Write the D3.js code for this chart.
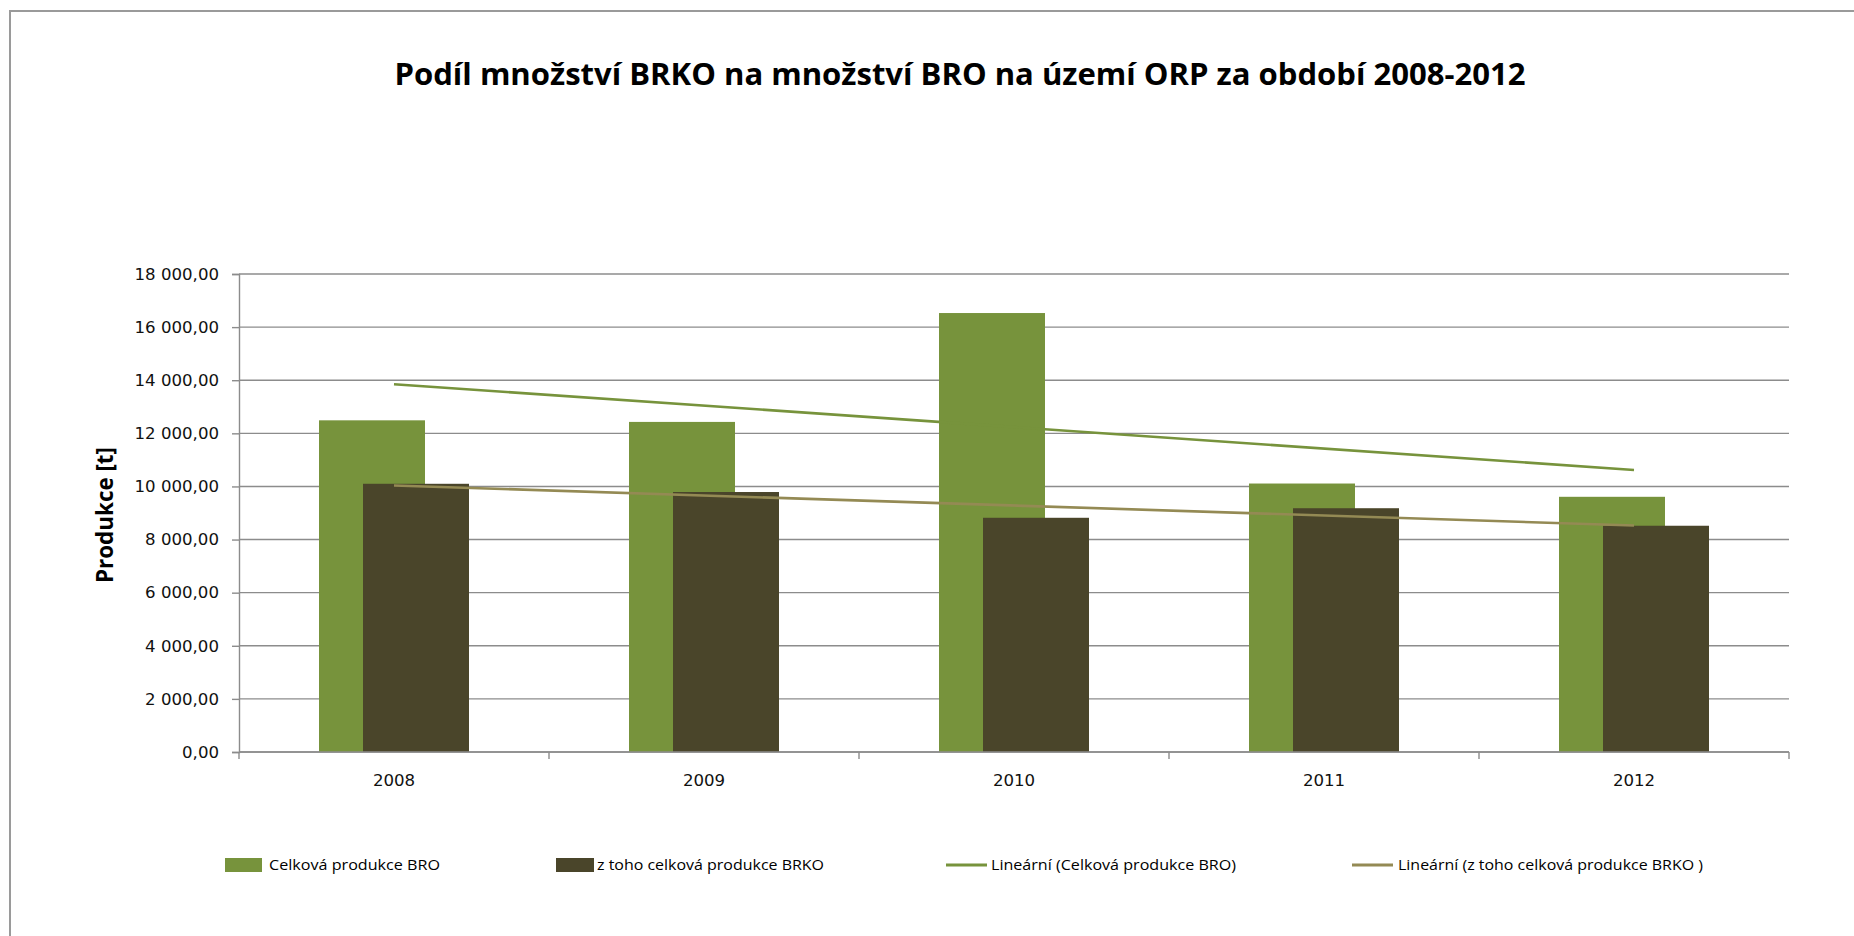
<!DOCTYPE html>
<html>
<head>
<meta charset="utf-8">
<script src="https://cdn.jsdelivr.net/npm/d3@7"></script>
<style>
  html, body { margin: 0; padding: 0; background: #ffffff; }
  svg { display: block; }
</style>
</head>
<body>
<svg id="chart" width="1854" height="936"></svg>
<script>
// Data: production of biodegradable waste (BRO) and its municipal part (BRKO), tonnes
const years = ["2008", "2009", "2010", "2011", "2012"];
const broValues = [12490, 12430, 16530, 10110, 9610];
const brkoValues = [10100, 9790, 8820, 9180, 8520];
const yTicks = [0, 2000, 4000, 6000, 8000, 10000, 12000, 14000, 16000, 18000];
const titleText = "Podíl množství BRKO na množství BRO na území ORP za období 2008-2012";
const yAxisTitle = "Produkce [t]";
const legendLabels = [
  "Celková produkce BRO",
  "z toho celková produkce BRKO",
  "Lineární (Celková produkce BRO)",
  "Lineární (z toho celková produkce BRKO )"
];

const colBRO = "#77933c";
const colBRKO = "#4a452a";
const colTrendBRO = "#77933c";
const colTrendBRKO = "#948a54";
const gridCol = "#8c8c8c";

const svg = d3.select("#chart");

// Outer chart frame
svg.append("rect")
  .attr("x", 10).attr("y", 11)
  .attr("width", 1900).attr("height", 960)
  .attr("fill", "none")
  .attr("stroke", "#9a9a9a")
  .attr("stroke-width", 2);

// Title
svg.append("text")
  .attr("x", 960).attr("y", 85)
  .attr("text-anchor", "middle")
  .attr("font-family", "'Open Sans', 'DejaVu Sans', sans-serif")
  .attr("font-weight", "bold")
  .attr("font-size", 31)
  .attr("textLength", 1131)
  .attr("lengthAdjust", "spacingAndGlyphs")
  .attr("fill", "#000")
  .text(titleText);

// Scales
const plotLeft = 239, plotRight = 1789, plotTop = 274, plotBottom = 752;
const x = d3.scaleBand().domain(years).range([plotLeft, plotRight]).padding(0);
const y = d3.scaleLinear().domain([0, 18000]).range([plotBottom, plotTop]);

const csLocale = d3.formatLocale({ decimal: ",", thousands: " ", grouping: [3], currency: ["", " Kč"] });
const fmt = csLocale.format(",.2f");

// Horizontal gridlines
svg.append("g")
  .selectAll("line")
  .data(yTicks)
  .join("line")
  .attr("x1", plotLeft).attr("x2", plotRight)
  .attr("y1", d => y(d)).attr("y2", d => y(d))
  .attr("stroke", gridCol)
  .attr("stroke-width", 1.4);

// Y axis
const yAxis = svg.append("g")
  .attr("transform", `translate(${plotLeft},0)`)
  .call(d3.axisLeft(y).tickValues(yTicks).tickFormat(fmt).tickSize(7).tickPadding(13));
yAxis.select(".domain").attr("stroke", gridCol).attr("stroke-width", 1.4);
yAxis.selectAll(".tick line").attr("stroke", gridCol).attr("stroke-width", 1.4);
yAxis.selectAll(".tick text")
  .attr("font-family", "'DejaVu Sans', Verdana, sans-serif")
  .attr("font-size", 16.6)
  .attr("fill", "#111");

// Y axis title
svg.append("text")
  .attr("transform", `translate(113,515) rotate(-90)`)
  .attr("text-anchor", "middle")
  .attr("font-family", "'Open Sans', 'DejaVu Sans', sans-serif")
  .attr("font-weight", "bold")
  .attr("font-size", 23)
  .attr("textLength", 136)
  .attr("lengthAdjust", "spacingAndGlyphs")
  .attr("fill", "#000")
  .text(yAxisTitle);

// Bars: BRO behind, BRKO in front, overlapping
const barW = 106, barShift = 22;
const center = d => x(d) + x.bandwidth() / 2;

svg.append("g")
  .selectAll("rect")
  .data(years.map((yr, i) => ({ yr, v: broValues[i] })))
  .join("rect")
  .attr("x", d => center(d.yr) - barShift - barW / 2)
  .attr("y", d => y(d.v))
  .attr("width", barW)
  .attr("height", d => y(0) - y(d.v))
  .attr("fill", colBRO);

svg.append("g")
  .selectAll("rect")
  .data(years.map((yr, i) => ({ yr, v: brkoValues[i] })))
  .join("rect")
  .attr("x", d => center(d.yr) + barShift - barW / 2)
  .attr("y", d => y(d.v))
  .attr("width", barW)
  .attr("height", d => y(0) - y(d.v))
  .attr("fill", colBRKO);

// X axis baseline and category boundary ticks
svg.append("line")
  .attr("x1", plotLeft).attr("x2", plotRight)
  .attr("y1", y(0)).attr("y2", y(0))
  .attr("stroke", gridCol).attr("stroke-width", 1.4);
const boundaries = years.map(d => x(d)).concat([x.range()[1]]);
svg.append("g")
  .selectAll("line")
  .data(boundaries)
  .join("line")
  .attr("x1", d => d).attr("x2", d => d)
  .attr("y1", y(0)).attr("y2", y(0) + 7)
  .attr("stroke", gridCol).attr("stroke-width", 1.4);

const xAxis = svg.append("g")
  .attr("transform", `translate(0,${plotBottom})`)
  .call(d3.axisBottom(x).tickSize(0).tickPadding(22));
xAxis.select(".domain").remove();
xAxis.selectAll(".tick text")
  .attr("font-family", "'DejaVu Sans', Verdana, sans-serif")
  .attr("font-size", 16.6)
  .attr("fill", "#111");

// Linear trend lines (least squares over category index)
function linearFit(vals) {
  const n = vals.length;
  const xs = vals.map((_, i) => i + 1);
  const mx = d3.mean(xs), my = d3.mean(vals);
  const b = d3.sum(xs.map((xi, i) => (xi - mx) * (vals[i] - my))) / d3.sum(xs.map(xi => (xi - mx) ** 2));
  const a = my - b * mx;
  return [
    { yr: years[0], v: a + b * 1 },
    { yr: years[n - 1], v: a + b * n }
  ];
}
const line = d3.line().x(d => center(d.yr)).y(d => y(d.v));

svg.append("path")
  .datum(linearFit(broValues))
  .attr("d", line)
  .attr("fill", "none")
  .attr("stroke", colTrendBRO)
  .attr("stroke-width", 2.6);

svg.append("path")
  .datum(linearFit(brkoValues))
  .attr("d", line)
  .attr("fill", "none")
  .attr("stroke", colTrendBRKO)
  .attr("stroke-width", 2.6);

// Legend
const legendY = 865;
const legendItems = [
  { type: "rect", color: colBRO, sx: 225, sw: 37, tx: 269, tw: 171 },
  { type: "rect", color: colBRKO, sx: 556, sw: 38, tx: 597, tw: 227 },
  { type: "line", color: colTrendBRO, sx: 946, sw: 41, tx: 991, tw: 245 },
  { type: "line", color: colTrendBRKO, sx: 1352, sw: 41, tx: 1398, tw: 305 }
];
const lg = svg.append("g");
legendItems.forEach((it, i) => {
  if (it.type === "rect") {
    lg.append("rect")
      .attr("x", it.sx).attr("y", legendY - 7)
      .attr("width", it.sw).attr("height", 14)
      .attr("fill", it.color);
  } else {
    lg.append("line")
      .attr("x1", it.sx).attr("x2", it.sx + it.sw)
      .attr("y1", legendY).attr("y2", legendY)
      .attr("stroke", it.color).attr("stroke-width", 3);
  }
  lg.append("text")
    .attr("x", it.tx).attr("y", legendY + 5)
    .attr("font-family", "'Open Sans', 'DejaVu Sans', sans-serif")
    .attr("font-size", 15)
    .attr("textLength", it.tw)
    .attr("lengthAdjust", "spacingAndGlyphs")
    .attr("fill", "#000")
    .text(legendLabels[i]);
});
</script>
</body>
</html>
